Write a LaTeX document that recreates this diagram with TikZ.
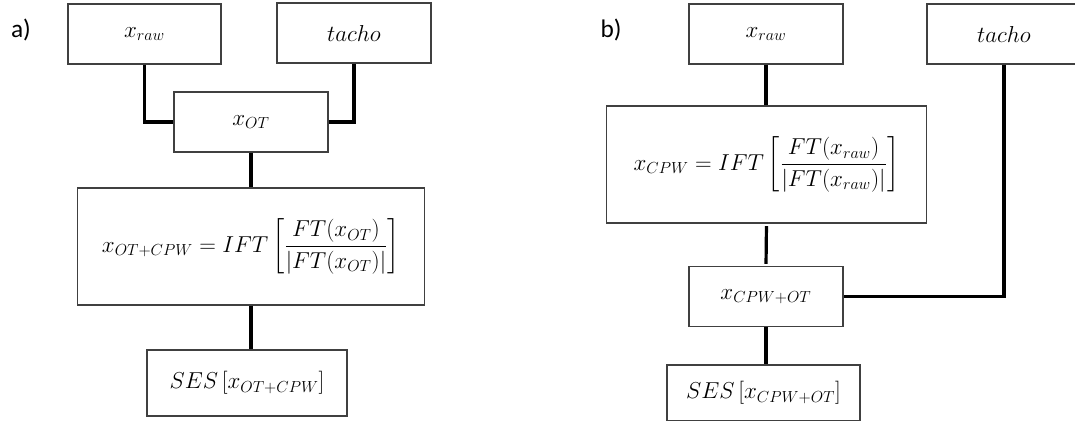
\documentclass[tikz,border=0pt]{standalone}
\usepackage{fontspec}
\usepackage{amsmath}
\newfontfamily\labelfont{Carlito}

\begin{document}
\begin{tikzpicture}[x=0.75pt, y=-0.75pt,
    box/.style={draw=black!75, line width=0.8pt, inner sep=0pt, font=\LARGE},
    tag/.style={font=\labelfont\fontsize{19}{22}\selectfont},
    link/.style={line width=2.4pt}]
    \useasboundingbox (0,0) rectangle (1075,421);

    % a) order tracking first, then whitening
    \node[tag] (la) at (21,30) {a)};
    \node[box, minimum width=153pt*0.75, minimum height=60pt*0.75] (rawa) at (144.5,34) {$x_{raw}$};
    \node[box, minimum width=154pt*0.75, minimum height=60pt*0.75] (tachoa) at (354,33) {$tacho$};
    \node[box, minimum width=154pt*0.75, minimum height=60pt*0.75] (ota) at (251,122) {$x_{OT}$};
    \node[box, minimum width=347pt*0.75, minimum height=117pt*0.75] (cpwa) at (251,246.5)
        {$\displaystyle x_{OT+CPW} = IFT\left[\frac{FT(x_{OT})}{|FT(x_{OT})|}\right]$};
    \node[box, minimum width=200pt*0.75, minimum height=66pt*0.75] (sesa) at (247,383) {$SES\,[x_{OT+CPW}]$};

    \draw[link] (rawa.south) |- (ota.west);
    \draw[link] (tachoa.south) |- (ota.east);
    \draw[link] (ota.south) -- (cpwa.north);
    \draw[link] (cpwa.south) -- (cpwa.south |- sesa.north);

    % b) whitening first, then order tracking
    \node[tag] (lb) at (611,30) {b)};
    \node[box, minimum width=154pt*0.75, minimum height=60pt*0.75] (rawb) at (766,34) {$x_{raw}$};
    \node[box, minimum width=154pt*0.75, minimum height=60pt*0.75] (tachob) at (1004,34) {$tacho$};
    \node[box, minimum width=320pt*0.75, minimum height=117pt*0.75] (cpwb) at (766.5,164.5)
        {$\displaystyle x_{CPW} = IFT\left[\frac{FT(x_{raw})}{|FT(x_{raw})|}\right]$};
    \node[box, minimum width=154pt*0.75, minimum height=60pt*0.75] (cpwotb) at (766,296.5) {$x_{CPW+OT}$};
    \node[box, minimum width=193pt*0.75, minimum height=56pt*0.75] (sesb) at (763.5,393) {$SES\,[x_{CPW+OT}]$};

    \draw[link] (rawb.south) -- (rawb.south |- cpwb.north);
    \draw[link, shorten <=2pt, shorten >=1.5pt] (cpwb.south) -- (cpwotb.north);
    \draw[link] (tachob.south) |- (cpwotb.east);
    \draw[link] (cpwotb.south) -- (cpwotb.south |- sesb.north);
\end{tikzpicture}
\end{document}
